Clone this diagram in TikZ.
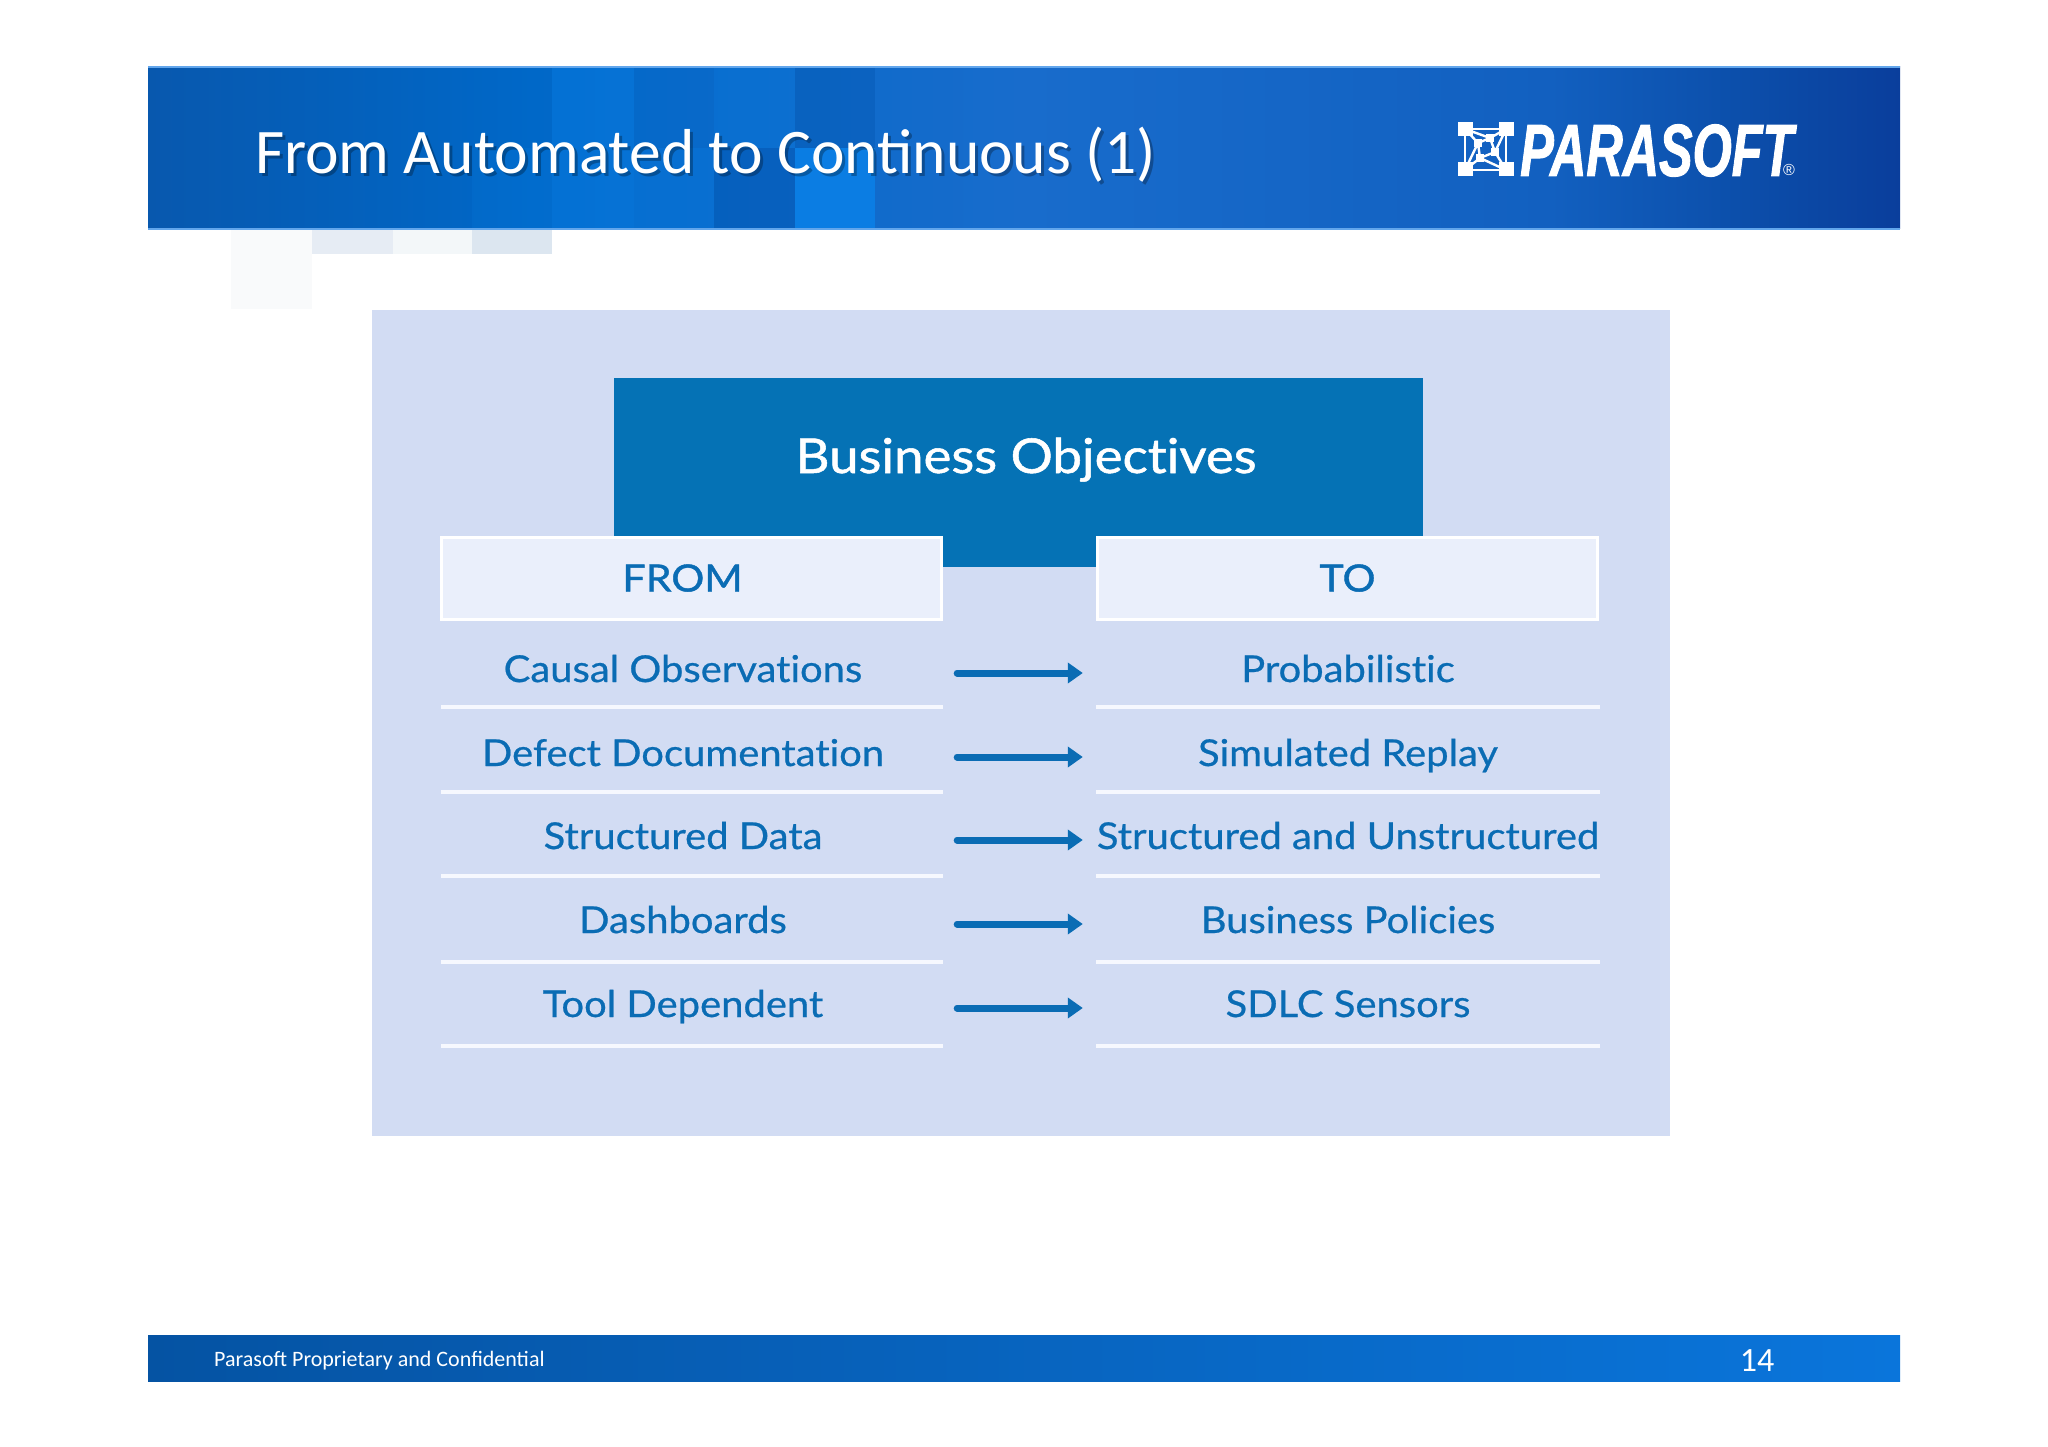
\documentclass[tikz,border=0pt]{standalone}
\usepackage{fontspec}
\usetikzlibrary{arrows.meta}
\setmainfont{Carlito}
\newfontfamily\tablefont[FakeBold=0.6,FakeStretch=1.08,Ligatures=CommonOff]{Lato}
\newfontfamily\headfont[FakeBold=1.1,FakeStretch=1.1,Ligatures=CommonOff]{Lato}
\newfontfamily\logofont[BoldItalicFeatures={FakeStretch=0.68,FakeBold=1.2}]{Liberation Sans}
\newcommand{\fsz}[1]{\fontsize{#1}{#1}\selectfont}
\definecolor{panelblue}{HTML}{D2DCF3}
\definecolor{cellblue}{HTML}{EAEFFB}
\definecolor{inkblue}{HTML}{0A6CB4}
\definecolor{darkbox}{HTML}{0572B5}
\definecolor{rulewhite}{HTML}{F6F8FE}
\definecolor{edgeblue}{HTML}{62A6EC}
\definecolor{tileA}{HTML}{F9FAFB}
\definecolor{tileB}{HTML}{E6ECF4}
\definecolor{tileC}{HTML}{F3F7F9}
\definecolor{tileD}{HTML}{DCE6F0}
\definecolor{bnA}{HTML}{0858AE}
\definecolor{bnB}{HTML}{0068C8}
\definecolor{bnC}{HTML}{186CCC}
\definecolor{bnD}{HTML}{1260C0}
\definecolor{bnE}{HTML}{0C50AC}
\definecolor{bnF}{HTML}{0A3E9C}
\definecolor{ftA}{HTML}{0553A3}
\definecolor{ftB}{HTML}{0A75DB}
\definecolor{brightblue}{HTML}{0A84EC}
\definecolor{deepblue}{HTML}{0050A8}
\pgfdeclarehorizontalshading{bannershade}{100bp}{
 color(0bp)=(bnA);
 color(25bp)=(bnA);
 color(36bp)=(bnB);
 color(50bp)=(bnC);
 color(65bp)=(bnD);
 color(70bp)=(bnE);
 color(75bp)=(bnF);
 color(100bp)=(bnF)}
\pgfdeclarehorizontalshading{footershade}{100bp}{
 color(0bp)=(ftA);
 color(25bp)=(ftA);
 color(75bp)=(ftB);
 color(100bp)=(ftB)}
\tikzset{
 x=1pt,y=-1pt,
 lighter/.style={fill=brightblue,fill opacity=#1,draw=none},
 darker/.style={fill=deepblue,fill opacity=#1,draw=none},
 pale/.style={fill=#1,draw=none},
 headcell/.style={rectangle,fill=cellblue,draw=white,line width=3pt,minimum width=500pt,minimum height=82pt,inner sep=0pt,text=inkblue,font=\headfont\fsz{37.5},text height=30pt,text depth=4pt},
 cell/.style={rectangle,inner sep=0pt,text=inkblue,font=\tablefont\fsz{37},text height=29pt,text depth=11pt,minimum width=520pt},
 flow/.style={draw=inkblue,line width=7pt,line cap=round,-{Triangle[length=15pt,width=20pt]}},
 rowrule/.style={draw=rulewhite,line width=4pt},
 iconpart/.style={fill=white,draw=none},
 iconline/.style={draw=white,line width=2.4pt},
}
\begin{document}
\begin{tikzpicture}
\useasboundingbox (0,0) rectangle (2048,1447);
\fill[white] (0,0) rectangle (2048,1447);
% header banner
\shade[shading=bannershade] (148,67) rectangle (1900,229);
\fill[lighter=.15] (472,148) rectangle (552,229);
\fill[lighter=.35] (552,67) rectangle (634,229);
\fill[lighter=.25] (634,148) rectangle (714,229);
\fill[darker=.35] (714,148) rectangle (795,229);
\fill[lighter=.20] (714,67) rectangle (795,148);
\fill[darker=.30] (795,67) rectangle (875,148);
\fill[lighter=.75] (795,148) rectangle (875,229);
\draw[edgeblue,line width=1.2pt] (148,67) -- (1900,67) (148,229) -- (1900,229);
% pale tiles below banner
\fill[pale=tileA] (231,230) rectangle (312,309);
\fill[pale=tileB] (312,230) rectangle (393,254);
\fill[pale=tileC] (393,230) rectangle (472,254);
\fill[pale=tileD] (472,230) rectangle (552,254);
% title
\node[anchor=base west,inner sep=0pt,text=black,opacity=.28,font=\fsz{63.5}] (titleshade) at (258,177) {From Automated to Continuous (1)};
\node[anchor=base west,inner sep=0pt,text=white,font=\fsz{63.5}] (title) at (255,174) {From Automated to Continuous (1)};
% logo mark
\foreach \cx/\cy in {1465.5/129,1506/129,1465.5/169.5,1506/169.5}
  \fill[iconpart] (\cx-7.5,\cy-7) rectangle (\cx+7.5,\cy+7);
\draw[iconline] (1465,129) rectangle (1506,170);
\draw[iconline] (1465,129) -- (1490,138) -- (1506,129) (1506,129) -- (1495,152) -- (1506,170)
  (1506,170) -- (1480,158) -- (1465,170) (1465,170) -- (1478,143) -- (1465,129)
  (1478,143) -- (1490,138) -- (1495,152) -- (1480,158) -- cycle;
\foreach \cx/\cy in {1478/143,1480/158,1495/152,1490/138}
  \fill[iconpart] (\cx-4,\cy-4) rectangle (\cx+4,\cy+4);
\node[anchor=base west,inner sep=0pt,text=white,font=\logofont\bfseries\itshape\fsz{74}] (logotext) at (1520,176) {PARASOFT};
\node[anchor=center,inner sep=0pt,text=white,font=\logofont\fsz{16}] (logoreg) at (1789,170) {®};
% panel
\fill[panelblue] (372,310) rectangle (1670,1136);
\node[rectangle,fill=darkbox,draw=none,inner sep=0pt,minimum width=809pt,minimum height=189pt] (bizbox) at (1018.5,472.5) {};
\node[anchor=base,inner sep=0pt,text=white,font=\headfont\fsz{48}] (biztext) at (1026,473) {Business Objectives};
\node[headcell] (fromhead) at (691.5,578.5) {\hspace*{-18pt}FROM};
\node[headcell] (tohead) at (1347.5,578.5) {TO};
% rows
\node[cell] (f1) at (683,673) {Causal Observations};
\node[cell] (f2) at (683,757) {Defect Documentation};
\node[cell] (f3) at (683,840) {Structured Data};
\node[cell] (f4) at (683,924) {Dashboards};
\node[cell] (f5) at (683,1008) {Tool Dependent};
\node[cell] (t1) at (1348,673) {Probabilistic};
\node[cell] (t2) at (1348,757) {Simulated Replay};
\node[cell] (t3) at (1348,840) {Structured and Unstructured};
\node[cell] (t4) at (1348,924) {Business Policies};
\node[cell] (t5) at (1348,1008) {SDLC Sensors};
\foreach \n in {1,...,5}
  \draw[flow,shorten <=14pt,shorten >=5pt] (f\n.east) -- (t\n.west);
\foreach \ry in {707,792,876,962,1046}{
  \draw[rowrule] (441,\ry) -- (943,\ry);
  \draw[rowrule] (1096,\ry) -- (1600,\ry);
}
% footer
\shade[shading=footershade] (148,1335) rectangle (1900,1381);
\node[anchor=base west,inner sep=0pt,text=white,font=\fsz{22}] (footleft) at (214,1366) {Parasoft Proprietary and Confidential};
\node[anchor=base,inner sep=0pt,text=white,font=\fsz{34}] (pagenum) at (1757,1371) {14};
\end{tikzpicture}
\end{document}
